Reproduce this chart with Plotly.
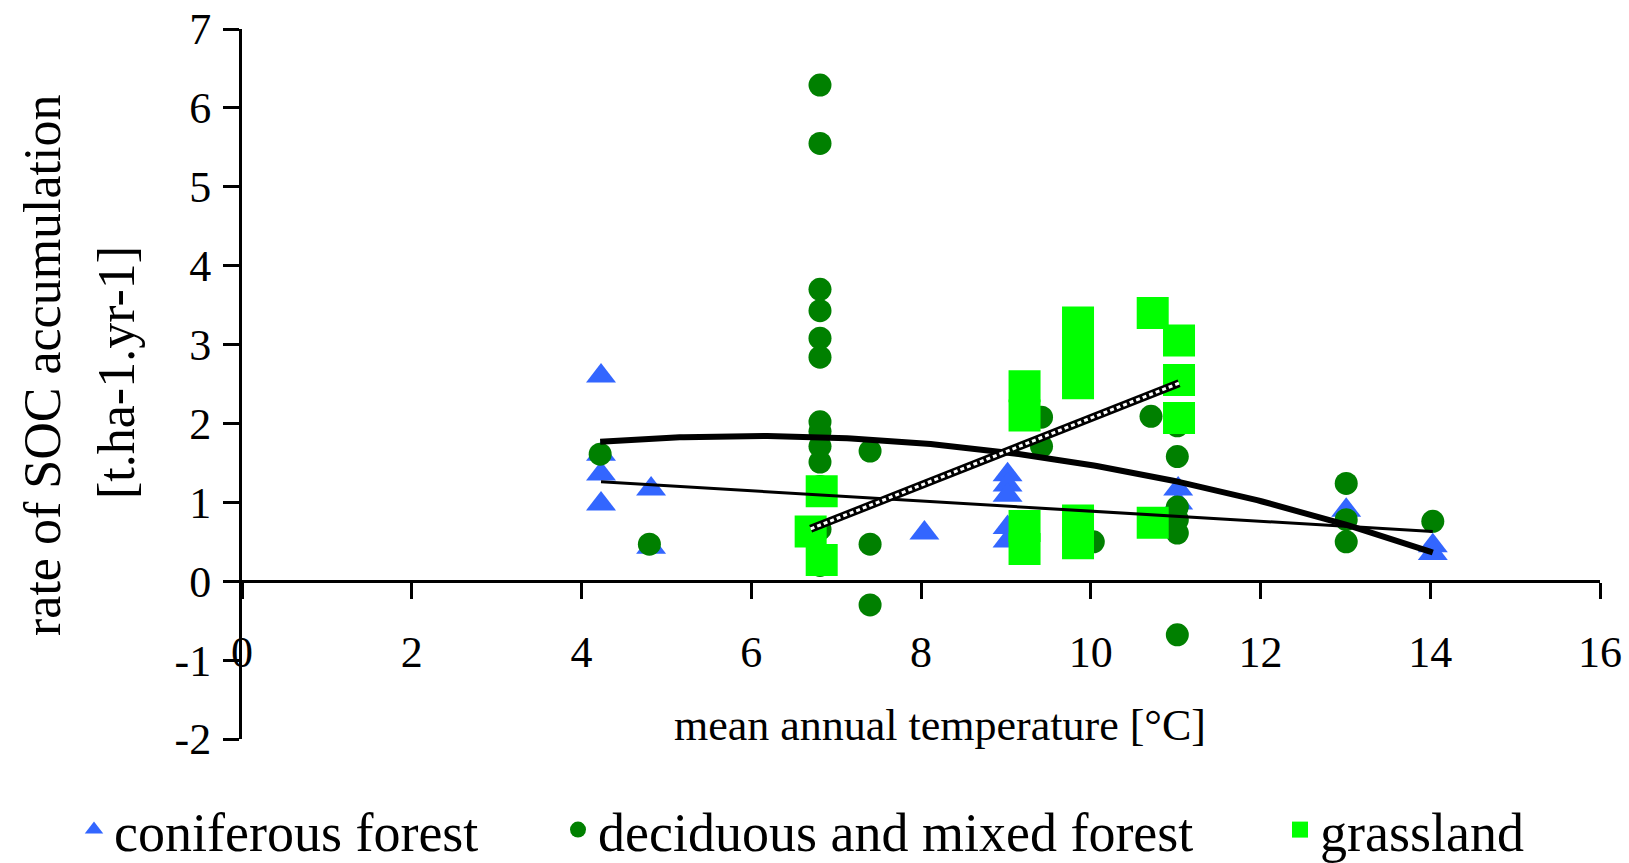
import numpy as np
import plotly.graph_objects as go

# ---------------- data ----------------
coniferous_x = [4.23, 4.23, 4.23, 4.23, 4.82, 4.82, 8.04, 9.02, 9.02, 9.02, 9.02, 9.02,
                11.03, 11.03, 13.01, 14.03, 14.03]
coniferous_y = [2.60, 1.61, 1.36, 0.98, 1.17, 0.43, 0.61, 1.35, 1.22, 1.09, 0.68, 0.51,
                1.17, 0.99, 0.90, 0.45, 0.35]

deciduous_x = [4.22, 4.80,
               6.81, 6.81, 6.81, 6.81, 6.81, 6.81, 6.81, 6.81, 6.81, 6.81, 6.81, 6.81, 6.81,
               7.40, 7.40, 7.40, 9.42, 9.42, 10.03, 10.71,
               11.02, 11.02, 11.02, 11.02, 11.02, 11.02,
               13.01, 13.01, 13.01, 14.03]
deciduous_y = [1.61, 0.47,
               6.29, 5.55, 3.70, 3.43, 3.08, 2.84, 2.02, 1.90, 1.71, 1.51, 1.20, 0.66, 0.20,
               1.65, 0.47, -0.30, 2.08, 1.71, 0.50, 2.09,
               1.97, 1.58, 0.94, 0.78, 0.61, -0.68,
               1.24, 0.78, 0.50, 0.76]

grassland_x = [6.83, 6.70, 6.83, 9.22, 9.22, 9.22, 9.22, 9.85, 9.85, 9.85, 9.85, 9.85,
               10.73, 10.73, 11.04, 11.04, 11.04]
grassland_y = [1.14, 0.63, 0.27, 2.47, 2.10, 0.70, 0.41, 3.28, 2.89, 2.51, 0.77, 0.48,
               3.40, 0.74, 3.05, 2.55, 2.07]

# trendline coefficients (highest power first)
coniferous_trend = [-0.0642, 1.531]
deciduous_trend = [-0.0229, 0.2748, 1.016]
grassland_trend = [0.4253, -2.185]

series_names = ["coniferous forest", "deciduous and mixed forest", "grassland"]

x_ticks = [0, 2, 4, 6, 8, 10, 12, 14, 16]
y_ticks = [-2, -1, 0, 1, 2, 3, 4, 5, 6, 7]
y_tick_labels = ["-2", "-1", "0", "1", "2", "3", "4", "5", "6", "7"]

x_title = "mean annual temperature [°C]"
y_title_1 = "rate of SOC accumulation"
y_title_2 = "[t.ha-1.yr-1]"

# ---------------- styles ----------------
FONT = "Liberation Serif"
BLUE = "#3366FF"
DGREEN = "#008000"
LGREEN = "#00FF00"

fig = go.Figure()

fig.add_trace(go.Scatter(
    x=coniferous_x, y=coniferous_y, mode="markers", name=series_names[0],
    marker=dict(symbol="triangle-up", size=26, color=BLUE, line=dict(width=0)),
    legend="legend"))
fig.add_trace(go.Scatter(
    x=deciduous_x, y=deciduous_y, mode="markers", name=series_names[1],
    marker=dict(symbol="circle", size=23, color=DGREEN, line=dict(width=0)),
    legend="legend2"))
fig.add_trace(go.Scatter(
    x=grassland_x, y=grassland_y, mode="markers", name=series_names[2],
    marker=dict(symbol="square", size=32, color=LGREEN, line=dict(width=0)),
    legend="legend3"))


def trend(xs, coef):
    xx = np.linspace(min(xs), max(xs), 200)
    return xx, np.polyval(coef, xx)


cx, cy = trend(coniferous_x, coniferous_trend)
fig.add_trace(go.Scatter(x=cx, y=cy, mode="lines", showlegend=False, hoverinfo="skip",
                         line=dict(color="black", width=3)))
dx, dy = trend(deciduous_x, deciduous_trend)
fig.add_trace(go.Scatter(x=dx, y=dy, mode="lines", showlegend=False, hoverinfo="skip",
                         line=dict(color="black", width=6)))
gx, gy = trend(grassland_x, grassland_trend)
fig.add_trace(go.Scatter(x=gx, y=gy, mode="lines", showlegend=False, hoverinfo="skip",
                         line=dict(color="black", width=8)))
fig.add_trace(go.Scatter(x=gx, y=gy, mode="lines", showlegend=False, hoverinfo="skip",
                         line=dict(color="white", width=3, dash="4px,3px")))

W, H = 1629, 863
L, R, T, B = 242, 29, 29, 124
pw = W - L - R
ph = H - T - B


def px_x(p):
    return (p - L) / pw


def px_y(p):
    return (H - B - p) / ph


fig.update_layout(
    width=W, height=H,
    margin=dict(l=L, r=R, t=T, b=B, pad=0, autoexpand=False),
    plot_bgcolor="white", paper_bgcolor="white",
    font=dict(family=FONT, color="black"),
    showlegend=True,
    xaxis=dict(range=[0, 16], tickvals=x_ticks, showgrid=False, zeroline=False,
               showline=True, linecolor="black", linewidth=3,
               ticks="outside", ticklen=16, tickwidth=3, tickcolor="black",
               anchor="free", position=2 / 9,
               tickfont=dict(family=FONT, size=44, color="black"),
               ticklabelstandoff=15),
    yaxis=dict(range=[-2, 7], tickvals=y_ticks, ticktext=y_tick_labels,
               showgrid=False, zeroline=False,
               showline=True, linecolor="black", linewidth=3,
               ticks="outside", ticklen=16, tickwidth=3, tickcolor="black",
               tickfont=dict(family=FONT, size=44, color="black"),
               ticklabelstandoff=3),
)

fig.add_annotation(text=x_title, xref="paper", yref="paper",
                   x=px_x(940), y=px_y(725), showarrow=False,
                   xanchor="center", yanchor="middle",
                   font=dict(family=FONT, size=44, color="black"))
fig.add_annotation(text=y_title_1, xref="paper", yref="paper",
                   x=px_x(42), y=px_y(365), showarrow=False, textangle=-90,
                   xanchor="center", yanchor="middle",
                   font=dict(family=FONT, size=52, color="black"))
fig.add_annotation(text=y_title_2, xref="paper", yref="paper",
                   x=px_x(116), y=px_y(373), showarrow=False, textangle=-90,
                   xanchor="center", yanchor="middle",
                   font=dict(family=FONT, size=52, color="black"))

leg_common = dict(xref="paper", yref="paper", xanchor="left", yanchor="middle",
                  y=px_y(830), orientation="h", bgcolor="rgba(0,0,0,0)",
                  font=dict(family=FONT, size=54, color="black"))
fig.update_layout(
    legend=dict(x=px_x(74), **leg_common),
    legend2=dict(x=px_x(558), **leg_common),
    legend3=dict(x=px_x(1280), **leg_common),
)

fig.write_html("out.html", config={"displayModeBar": False},
               post_script="document.body.style.margin='0';")
